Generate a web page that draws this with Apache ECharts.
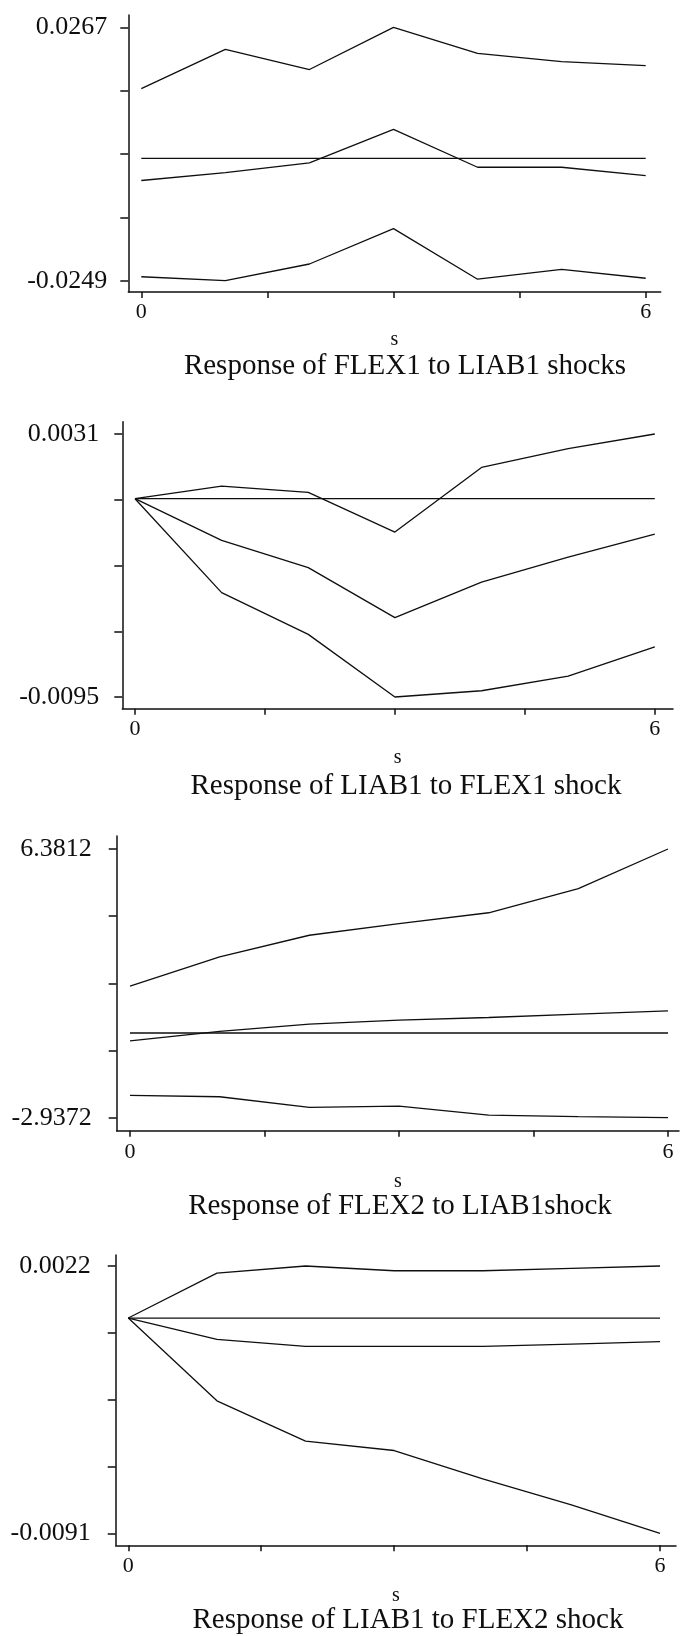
<!DOCTYPE html>
<html>
<head>
<meta charset="utf-8">
<script src="https://cdn.jsdelivr.net/npm/echarts@6/dist/echarts.min.js"></script>
<style>
  html, body { margin: 0; padding: 0; background: #ffffff; }
  #chart { width: 680px; height: 1636px; }
</style>
</head>
<body>
<div id="chart"></div>
<script>
// Forecast horizon (steps) and x-axis ticks
const steps = [0, 1, 2, 3, 4, 5, 6];
const xTickValues = [0, 1.5, 3, 4.5, 6];
const xTickLabels = ['0', '6'];
const xAxisName = 's';

// Response of FLEX1 to LIAB1 shocks
const flex1LiabUpper = [0.0142, 0.0222, 0.0181, 0.0267, 0.0214, 0.0197, 0.0189];
const flex1LiabIrf   = [-0.0045, -0.0029, -0.0009, 0.0059, -0.0018, -0.0018, -0.0035];
const flex1LiabLower = [-0.0241, -0.0249, -0.0215, -0.0143, -0.0246, -0.0226, -0.0244];
const flex1LiabTicks = ['0.0267', '-0.0249'];

// Response of LIAB1 to FLEX1 shock
const liabFlex1Upper = [0, 0.0006, 0.0003, -0.0016, 0.0015, 0.0024, 0.0031];
const liabFlex1Irf   = [0, -0.0020, -0.0033, -0.0057, -0.0040, -0.0028, -0.0017];
const liabFlex1Lower = [0, -0.0045, -0.0065, -0.0095, -0.0092, -0.0085, -0.0071];
const liabFlex1Ticks = ['0.0031', '-0.0095'];

// Response of FLEX2 to LIAB1 shock
const flex2LiabUpper = [1.624, 2.640, 3.390, 3.795, 4.170, 5.007, 6.3812];
const flex2LiabIrf   = [-0.270, 0.060, 0.307, 0.446, 0.538, 0.654, 0.769];
const flex2LiabLower = [-2.164, -2.210, -2.579, -2.533, -2.845, -2.903, -2.9372];
const flex2LiabTicks = ['6.3812', '-2.9372'];

// Response of LIAB1 to FLEX2 shock
const liabFlex2Upper = [0, 0.0019, 0.0022, 0.0020, 0.0020, 0.0021, 0.0022];
const liabFlex2Irf   = [0, -0.0009, -0.0012, -0.0012, -0.0012, -0.0011, -0.0010];
const liabFlex2Lower = [0, -0.0035, -0.0052, -0.0056, -0.0068, -0.0079, -0.0091];
const liabFlex2Ticks = ['0.0022', '-0.0091'];

// Reference line at zero
const zeroLine = [0, 0, 0, 0, 0, 0, 0];

const panelTitles = [
  'Response of FLEX1 to LIAB1 shocks',
  'Response of LIAB1 to FLEX1 shock',
  'Response of FLEX2 to LIAB1shock',
  'Response of LIAB1 to FLEX2 shock'
];
const panelSeries = [
  [flex1LiabUpper, flex1LiabIrf, flex1LiabLower],
  [liabFlex1Upper, liabFlex1Irf, liabFlex1Lower],
  [flex2LiabUpper, flex2LiabIrf, flex2LiabLower],
  [liabFlex2Upper, liabFlex2Irf, liabFlex2Lower]
];
const panelTicks = [flex1LiabTicks, liabFlex1Ticks, flex2LiabTicks, liabFlex2Ticks];

// Pixel layout of each panel: plot box, where the end ticks fall, label offsets
const layout = [
  { left: 128.3, top: 15,    right: 660.7, bottom: 292,    x0: 141.3, x6: 645.7, yHiPx: 27.3, yLoPx: 280.7,  yMargin: 21, xMargin: 9,  nameGap: 38, titleX: 405, titleY: 366 },
  { left: 122.3, top: 421.7, right: 673,   bottom: 708.7,  x0: 135,   x6: 654.8, yHiPx: 434,  yLoPx: 697,    yMargin: 23, xMargin: 10, nameGap: 39, titleX: 406, titleY: 786 },
  { left: 116.7, top: 836,   right: 679,   bottom: 1130.7, x0: 130,   x6: 668,   yHiPx: 849,  yLoPx: 1117.7, yMargin: 25, xMargin: 11, nameGap: 41, titleX: 400, titleY: 1206 },
  { left: 115.7, top: 1255,  right: 676,   bottom: 1545.3, x0: 128.3, x6: 660,   yHiPx: 1266, yLoPx: 1533.3, yMargin: 25, xMargin: 10, nameGap: 40, titleX: 408, titleY: 1620 }
];

const serif = '"Liberation Serif", "Times New Roman", serif';
const ink = '#0f0f0f';

const grids = [], xAxes = [], yAxes = [], series = [], titles = [];

layout.forEach(function (L, i) {
  const ticks = panelTicks[i];
  const yHi = parseFloat(ticks[0]);
  const yLo = parseFloat(ticks[1]);
  // axis extent reaches a little past the end ticks, as in the frame
  const yPerPx = (yHi - yLo) / (L.yLoPx - L.yHiPx);
  const yMax = yHi + (L.yHiPx - L.top) * yPerPx;
  const yMin = yLo - (L.bottom - L.yLoPx) * yPerPx;
  const xPerPx = 6 / (L.x6 - L.x0);
  const xMin = -(L.x0 - L.left) * xPerPx;
  const xMax = 6 + (L.right - L.x6) * xPerPx;
  const yTickValues = [];
  for (let k = 0; k < 5; k++) yTickValues.push(yHi - (yHi - yLo) * k / 4);

  grids.push({
    left: L.left, top: L.top, width: L.right - L.left, height: L.bottom - L.top,
    containLabel: false, outerBoundsMode: 'none'
  });

  xAxes.push({
    type: 'value', gridIndex: i, min: xMin, max: xMax,
    name: xAxisName, nameLocation: 'middle', nameGap: L.nameGap,
    nameTextStyle: { fontFamily: serif, fontSize: 20, color: ink },
    axisLine: { show: true, onZero: false, lineStyle: { color: ink, width: 1.5 } },
    axisTick: { show: true, inside: false, length: 6, customValues: xTickValues, lineStyle: { color: ink, width: 1.5 } },
    axisLabel: {
      show: true, margin: L.xMargin, customValues: [0, 6],
      fontFamily: serif, fontSize: 22, color: ink,
      formatter: function (v) { return v < 3 ? xTickLabels[0] : xTickLabels[1]; }
    },
    splitLine: { show: false }
  });

  yAxes.push({
    type: 'value', gridIndex: i, min: yMin, max: yMax,
    axisLine: { show: true, onZero: false, lineStyle: { color: ink, width: 1.5 } },
    axisTick: { show: true, inside: false, length: 8, customValues: yTickValues, lineStyle: { color: ink, width: 1.5 } },
    axisLabel: {
      show: true, margin: L.yMargin, customValues: [yHi, yLo],
      fontFamily: serif, fontSize: 26, color: ink,
      formatter: function (v) { return Math.abs(v - yHi) < Math.abs(v - yLo) ? ticks[0] : ticks[1]; }
    },
    splitLine: { show: false }
  });

  const lines = panelSeries[i].concat([zeroLine]);
  lines.forEach(function (vals) {
    series.push({
      type: 'line', xAxisIndex: i, yAxisIndex: i,
      data: steps.map(function (s, k) { return [s, vals[k]]; }),
      showSymbol: false, symbol: 'none', silent: true, animation: false,
      lineStyle: { color: ink, width: 1.3 }
    });
  });

  titles.push({
    text: panelTitles[i], left: L.titleX, top: L.titleY,
    textAlign: 'center', textVerticalAlign: 'middle', padding: 0,
    textStyle: { fontFamily: serif, fontSize: 29, fontWeight: 'normal', color: ink }
  });
});

const chart = echarts.init(document.getElementById('chart'), null, { renderer: 'canvas' });
chart.setOption({
  backgroundColor: '#ffffff',
  animation: false,
  title: titles,
  grid: grids,
  xAxis: xAxes,
  yAxis: yAxes,
  series: series
});
</script>
</body>
</html>
